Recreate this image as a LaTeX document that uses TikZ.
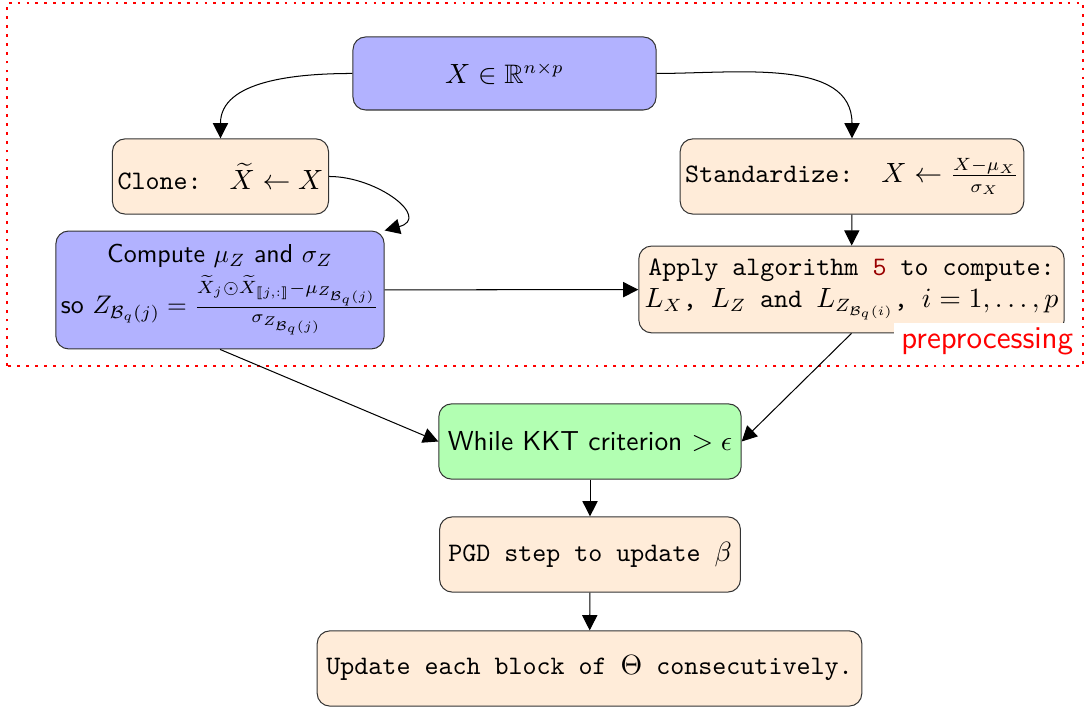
\documentclass[tikz,border=0pt]{standalone}
\usepackage{amsmath,amssymb}
\usepackage{tikz}
\usetikzlibrary{arrows.meta, positioning}

\begin{document}
\begin{tikzpicture}[
    box/.style = {draw=black!80, rounded corners=5pt, align=center, inner xsep=2pt, inner ysep=3pt},
    bluebox/.style = {box, fill=blue!30},
    orgbox/.style = {box, fill=orange!15, font=\ttfamily\fontsize{10.5}{12.6}\selectfont},
    grnbox/.style = {box, fill=green!30},
    >={Triangle[length=6pt,width=6pt]}
  ]
    \useasboundingbox (0,0) rectangle (15,9.788);

    % preprocessing frame
    \draw [red, line width=1.1pt, dash pattern=on 1.1pt off 2.4pt]
      (0.097,4.728) rectangle (14.972,9.747);

    \node (data) [bluebox, font=\fontsize{10.5}{12.6}\selectfont, minimum width=4.19cm, minimum height=1.01cm] at (6.975,8.772)
      {$X \in \mathbb{R}^{n\times p}$};
    \node (clone) [orgbox, minimum width=2.92cm, minimum height=1.04cm] at (3.048,7.348)
      {Clone:~~$\widetilde{X} \leftarrow X$};
    \node (stdz) [orgbox, minimum width=4.67cm, minimum height=1.04cm] at (11.779,7.348)
      {Standardize:~~$X \leftarrow \frac{X-\mu_X}{\sigma_X}$};
    \node (comp) [bluebox, font=\sffamily\fontsize{10.2}{12.4}\selectfont, minimum width=4.53cm, minimum height=1.63cm] at (3.042,5.779)
      {Compute $\mu_Z$ and $\sigma_Z$\\[2pt]
       so $Z_{\mathcal{B}_q(j)} = \frac{\widetilde{X}_j \odot \widetilde{X}_{[\![j,:]\!]} - \mu_{Z_{\mathcal{B}_q(j)}}}{\sigma_{Z_{\mathcal{B}_q(j)}}}$};
    \node (apply) [orgbox, minimum width=5.88cm, minimum height=1.20cm] at (11.772,5.786)
      {Apply algorithm \textcolor{red!60!black}{5} to compute:\\
       $L_X$, $L_Z$ and $L_{Z_{\mathcal{B}_q(i)}}$, $i=1,\dots,p$};
    \node (prep) [fill=white, text=red, font=\sffamily\fontsize{12.5}{15}\selectfont, anchor=east, inner xsep=3pt, inner ysep=2pt] at (14.95,5.07)
      {preprocessing};

    \node (kkt) [grnbox, font=\sffamily\fontsize{10.8}{13}\selectfont, minimum width=4.18cm, minimum height=1.04cm] at (8.157,3.684)
      {While KKT criterion $> \epsilon$};
    \node (pgd) [orgbox, minimum width=4.16cm, minimum height=1.04cm] at (8.157,2.122)
      {PGD step to update $\beta$};
    \node (upd) [orgbox, minimum width=7.53cm, minimum height=1.04cm] at (8.150,0.546)
      {Update each block of $\Theta$ consecutively.};

    \path [->]
      (data.west) edge [out=180, in=90] (clone.north)
      (data.east) edge [out=0, in=90] (stdz.north)
      (clone.east) edge [out=0, in=15, looseness=1.6] (comp.north east)
      (stdz) edge (apply)
      (comp) edge (apply)
      (comp.south) edge (kkt.west)
      (apply.south) edge (kkt.east)
      (kkt) edge (pgd)
      (pgd) edge (upd);
\end{tikzpicture}
\end{document}
